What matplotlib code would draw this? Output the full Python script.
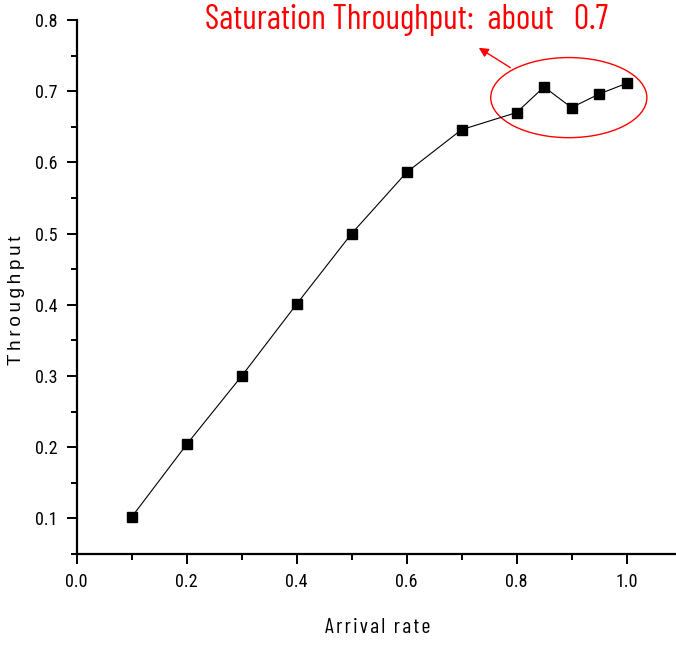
import numpy as np
import matplotlib
matplotlib.use("Agg")
import matplotlib.pyplot as plt
from matplotlib.patches import Ellipse
from matplotlib.ticker import MultipleLocator

# data
arrival = [0.1, 0.2, 0.3, 0.4, 0.5, 0.6, 0.7, 0.8, 0.85, 0.9, 0.95, 1.0]
throughput = [0.102, 0.204, 0.300, 0.401, 0.500, 0.586, 0.646, 0.670, 0.706, 0.677, 0.696, 0.711]
note = "Saturation Throughput:  about   0.7"

narrow = ["Roboto Condensed", "Liberation Sans", "DejaVu Sans"]
narrower = ["Barlow Condensed", "Roboto Condensed", "DejaVu Sans"]

fig = plt.figure(figsize=(6.76, 6.45), dpi=100)
ax = fig.add_axes([0.1135, 0.141, 0.8865, 0.828])

ax.plot(arrival, throughput, color="black", lw=0.8, marker="s", ms=7,
        mfc="black", mec="black")

ax.set_xlim(0.0, 1.09)
ax.set_ylim(0.05, 0.8)
ax.xaxis.set_minor_locator(MultipleLocator(0.1))
ax.yaxis.set_minor_locator(MultipleLocator(0.05))
ax.set_xticks([0.0, 0.2, 0.4, 0.6, 0.8, 1.0])
ax.set_xticklabels(["0.0", "0.2", "0.4", "0.6", "0.8", "1.0"])
ax.set_yticks([0.1, 0.2, 0.3, 0.4, 0.5, 0.6, 0.7, 0.8])
ax.set_yticklabels(["0.1", "0.2", "0.3", "0.4", "0.5", "0.6", "0.7", "0.8"])

for s in ["top", "right"]:
    ax.spines[s].set_visible(False)
for s in ["left", "bottom"]:
    ax.spines[s].set_linewidth(1.6)
ax.tick_params(which="major", direction="out", length=7, width=1.4, labelsize=13, pad=7)
ax.tick_params(which="minor", direction="out", length=4, width=1.4)
for lab in ax.get_xticklabels() + ax.get_yticklabels():
    lab.set_family(narrow)

ax.set_xlabel("A\u200ar\u200ar\u200ai\u200av\u200aa\u200al  r\u200aa\u200at\u200ae", family=narrower, fontsize=15.5)
ax.xaxis.set_label_coords(0.503, -0.12)
ax.set_ylabel("T\u2009h\u2009r\u2009o\u2009u\u2009g\u2009h\u2009p\u2009u\u2009t",
              family=["Liberation Sans", "DejaVu Sans"], fontsize=13.5)
ax.yaxis.set_label_coords(-0.1, 0.476)
ax.yaxis.label.set_va("center")

# annotation: ellipse around the saturated part plus arrow and note
ax.add_patch(Ellipse((0.895, 0.691), 0.284, 0.1125, fill=False, ec="red", lw=1.0,
                     clip_on=False))
ax.annotate("", xy=(0.727, 0.763), xytext=(0.793, 0.731),
            arrowprops=dict(arrowstyle="-|>", color="red", lw=1.0, mutation_scale=14),
            annotation_clip=False)
fig.text(0.602, 0.969, note, color="red", fontsize=24.5, family=narrower,
         ha="center", va="center")

fig.savefig("out.png", dpi=100)
